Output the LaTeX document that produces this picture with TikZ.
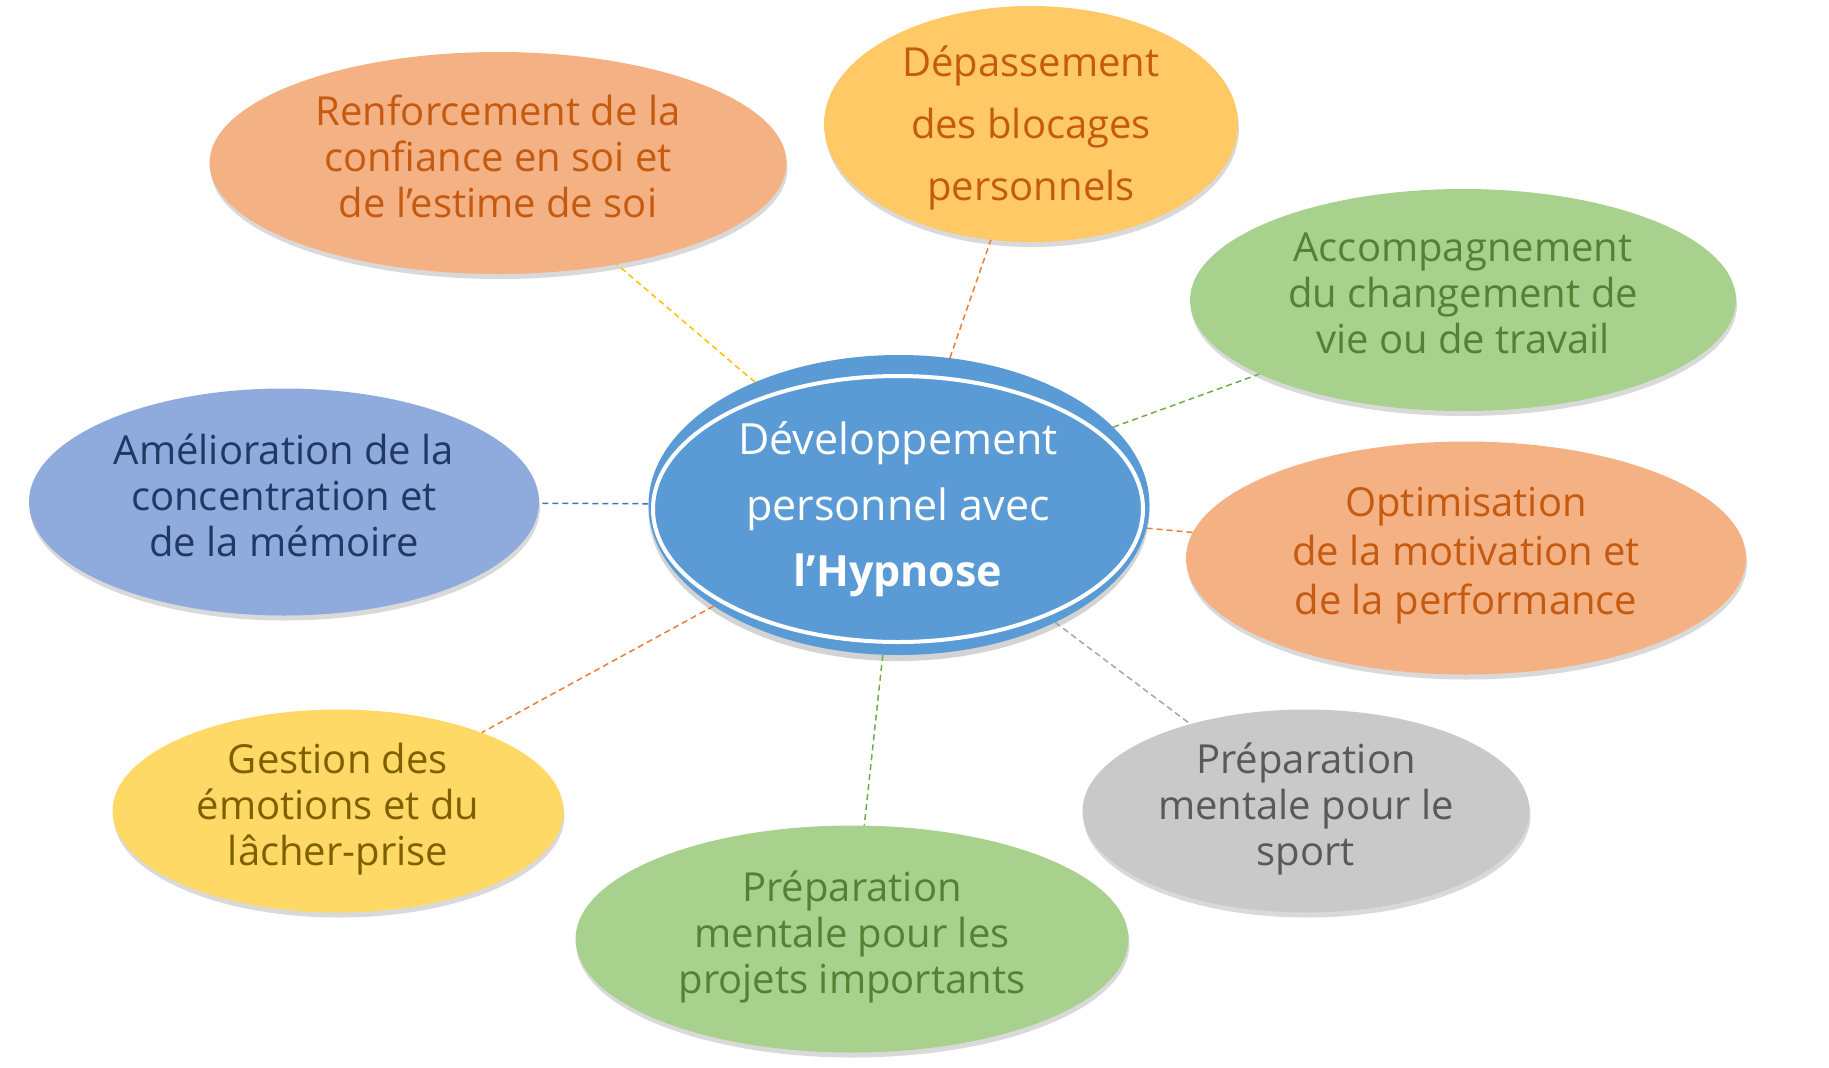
\documentclass[tikz,border=0pt]{standalone}
\usepackage{fontspec}
\setmainfont{Open Sans}
\usetikzlibrary{shapes.geometric, shadows}

\definecolor{saumon}{HTML}{F4B183}
\definecolor{saumonTxt}{HTML}{C55A11}
\definecolor{ambre}{HTML}{FFC966}
\definecolor{jaune}{HTML}{FFD966}
\definecolor{jauneTxt}{HTML}{7F6000}
\definecolor{vert}{HTML}{A9D18E}
\definecolor{vertTxt}{HTML}{548235}
\definecolor{gris}{HTML}{C9C9C9}
\definecolor{grisTxt}{HTML}{595959}
\definecolor{bleuClair}{HTML}{8FAADC}
\definecolor{bleuTxt}{HTML}{203864}
\definecolor{bleu}{HTML}{5B9BD5}
\definecolor{lienJaune}{HTML}{FFC000}
\definecolor{lienOrange}{HTML}{ED7D31}
\definecolor{lienVert}{HTML}{70AD47}
\definecolor{lienBleu}{HTML}{4472C4}
\definecolor{lienGris}{HTML}{A5A5A5}

\tikzset{
  bulle/.style={ellipse, inner xsep=0pt, inner ysep=-20pt, align=center,
    font=\fontsize{40}{46}\selectfont,
    execute at end node={\rule[-14pt]{0pt}{0pt}},
    drop shadow={shadow xshift=1pt, shadow yshift=-5pt, opacity=.3}},
  lien/.style={line width=1.5pt, dash pattern=on 6pt off 4pt}
}

\begin{document}
\begin{tikzpicture}[x=1pt, y=-1pt]
    \useasboundingbox (0,0) rectangle (1829,1068);

    % Bulle centrale
    \node[ellipse, fill=bleu, minimum width=501pt, minimum height=300pt,
      drop shadow={shadow xshift=0pt, shadow yshift=-6pt, opacity=.35}] (centre) at (899,505) {};
    \node[ellipse, fill=bleu, draw=white, line width=4pt, inner sep=0pt,
      minimum width=490pt, minimum height=266pt, align=center, text=white,
      font=\fontsize{43}{66}\selectfont] (titre) at (898,509)
      {Développement\\personnel avec\\\textbf{l’Hypnose}};

    % Bulles autour
    \node[bulle, fill=saumon, text=saumonTxt, minimum width=577pt, minimum height=222pt]
      (renfo) at (498,163) {Renforcement de la\\confiance en soi et\\de l’estime de soi};
    \node[bulle, fill=ambre, text=saumonTxt, minimum width=414pt, minimum height=236pt,
      font=\fontsize{40}{62}\selectfont, text height=162pt, text depth=10pt]
      (depass) at (1031,124) {Dépassement\\des blocages\\personnels};
    \node[bulle, fill=vert, text=vertTxt, minimum width=546pt, minimum height=222pt]
      (accomp) at (1463,300) {Accompagnement\\du changement de\\vie ou de travail};
    \node[bulle, fill=saumon, text=saumonTxt, minimum width=560pt, minimum height=233pt,
      font=\fontsize{40}{49}\selectfont]
      (optim) at (1466,558) {Optimisation\\de la motivation et\\de la performance};
    \node[bulle, fill=gris, text=grisTxt, minimum width=447pt, minimum height=203pt]
      (sport) at (1306,811) {Préparation\\mentale pour le\\sport};
    \node[bulle, fill=vert, text=vertTxt, minimum width=553pt, minimum height=227pt]
      (projets) at (852,939) {Préparation\\mentale pour les\\projets importants};
    \node[bulle, fill=jaune, text=jauneTxt, minimum width=451pt, minimum height=203pt]
      (gestion) at (338,811) {Gestion des\\émotions et du\\lâcher-prise};
    \node[bulle, fill=bleuClair, text=bleuTxt, minimum width=510pt, minimum height=227pt]
      (amelio) at (284,502) {Amélioration de la\\concentration et\\de la mémoire};

    % Liens en pointillés
    \draw[lien, lienJaune] (centre) -- (renfo);
    \draw[lien, lienOrange] (centre) -- (depass);
    \draw[lien, lienVert] (centre) -- (accomp);
    \draw[lien, lienOrange] (centre) -- (optim);
    \draw[lien, lienGris] (centre) -- (sport);
    \draw[lien, lienVert] (centre) -- (projets);
    \draw[lien, lienOrange] (centre) -- (gestion);
    \draw[lien, lienBleu] (centre) -- (amelio);
\end{tikzpicture}
\end{document}
